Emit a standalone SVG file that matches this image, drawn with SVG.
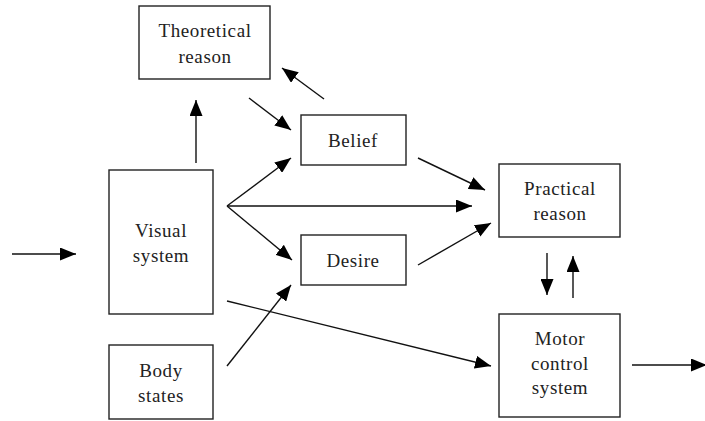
<svg xmlns="http://www.w3.org/2000/svg" width="705" height="421" viewBox="0 0 705 421">
  <style>
    .box { fill: #fff; stroke: #222; stroke-width: 1.4; }
    .edge { stroke: #111; stroke-width: 1.4; fill: none; marker-end: url(#head); }
  </style>
  <defs>
    <marker id="head" markerUnits="userSpaceOnUse" markerWidth="17" markerHeight="13" viewBox="0 0 17 13" refX="16" refY="6.5" orient="auto">
      <path d="M0,0 L16,6.5 L0,13 Z" fill="#000"/>
    </marker>
  </defs>

  <!-- labelled boxes -->
  <g font-family="Liberation Serif, serif" font-size="19" letter-spacing="0.6" fill="#222" text-anchor="middle">
    <g id="theoretical">
      <rect class="box" x="139" y="6" width="131" height="73"/>
      <text x="205" y="37">Theoretical</text>
      <text x="205" y="63">reason</text>
    </g>
    <g id="visual">
      <rect class="box" x="109" y="170" width="104" height="144"/>
      <text x="161" y="237">Visual</text>
      <text x="161" y="262">system</text>
    </g>
    <g id="body">
      <rect class="box" x="109" y="345" width="104" height="74"/>
      <text x="161" y="377">Body</text>
      <text x="161" y="402">states</text>
    </g>
    <g id="belief">
      <rect class="box" x="301" y="115" width="105" height="50"/>
      <text x="353" y="147">Belief</text>
    </g>
    <g id="desire">
      <rect class="box" x="301" y="235" width="105" height="50"/>
      <text x="353" y="267">Desire</text>
    </g>
    <g id="practical">
      <rect class="box" x="499" y="164" width="121" height="73"/>
      <text x="560" y="195">Practical</text>
      <text x="560" y="220">reason</text>
    </g>
    <g id="motor">
      <rect class="box" x="499" y="314" width="121" height="103"/>
      <text x="560" y="345">Motor</text>
      <text x="560" y="370">control</text>
      <text x="560" y="394">system</text>
    </g>
  </g>

  <!-- arrows -->
  <g id="connectors">
    <line class="edge" x1="12" y1="254" x2="76" y2="254"/>
    <line class="edge" x1="196" y1="163" x2="196" y2="100"/>
    <line class="edge" x1="324" y1="99" x2="282" y2="68"/>
    <line class="edge" x1="249" y1="98" x2="291" y2="130"/>
    <line class="edge" x1="227" y1="206" x2="291" y2="158"/>
    <line class="edge" x1="227" y1="206" x2="472" y2="206"/>
    <line class="edge" x1="227" y1="206" x2="292" y2="260"/>
    <line class="edge" x1="418" y1="158" x2="485" y2="190"/>
    <line class="edge" x1="418" y1="265" x2="491" y2="223"/>
    <line class="edge" x1="227" y1="301" x2="491" y2="366"/>
    <line class="edge" x1="227" y1="366" x2="291" y2="285"/>
    <line class="edge" x1="547" y1="253" x2="547" y2="295"/>
    <line class="edge" x1="573" y1="298" x2="573" y2="256"/>
    <line class="edge" x1="632" y1="365" x2="707" y2="365"/>
  </g>
</svg>
